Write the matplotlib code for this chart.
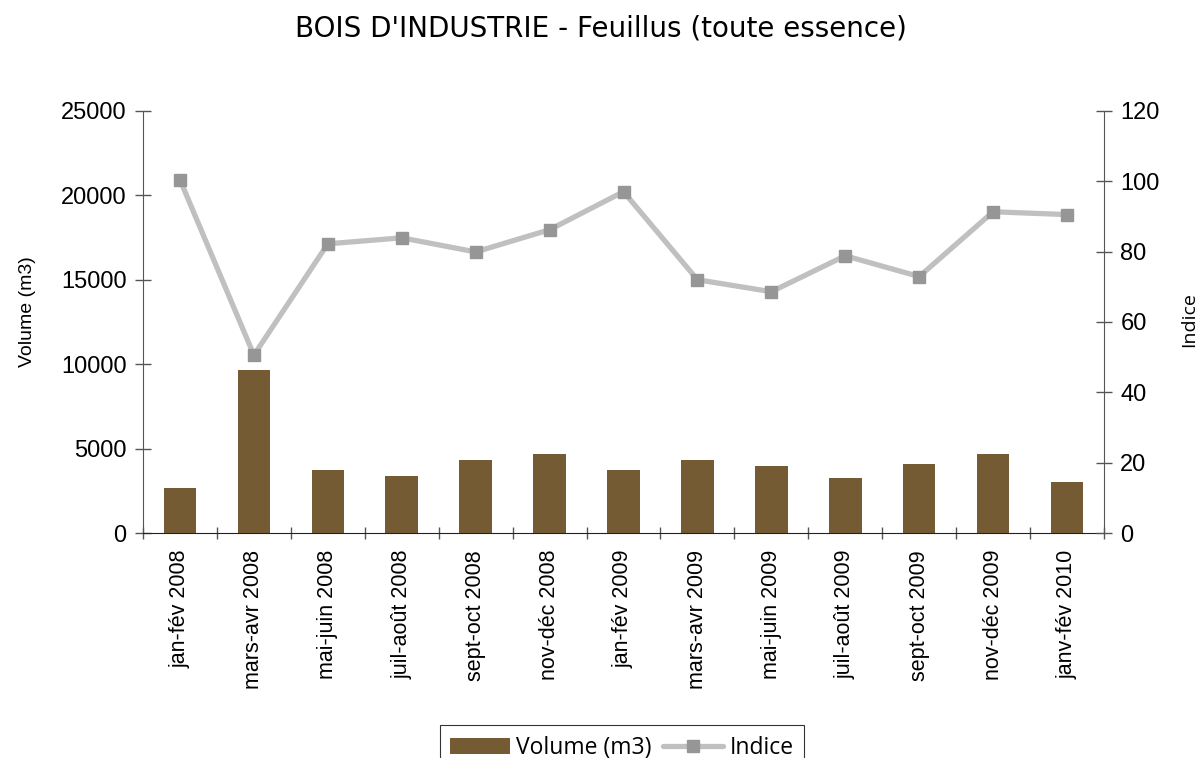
import matplotlib
matplotlib.use("Agg")
import matplotlib.pyplot as plt
import numpy as np

categories = ["jan-fév 2008", "mars-avr 2008", "mai-juin 2008", "juil-août 2008",
              "sept-oct 2008", "nov-déc 2008", "jan-fév 2009", "mars-avr 2009",
              "mai-juin 2009", "juil-août 2009", "sept-oct 2009", "nov-déc 2009",
              "janv-fév 2010"]
volume = [2680, 9640, 3730, 3370, 4320, 4680, 3730, 4320, 3960, 3270, 4080, 4680, 3040]
indice = [100.4, 50.6, 82.2, 83.9, 79.9, 86.2, 97.0, 72.0, 68.6, 78.8, 72.9, 91.3, 90.5]
left_ticks = [0, 5000, 10000, 15000, 20000, 25000]
right_ticks = [0, 20, 40, 60, 80, 100, 120]

title = "BOIS D'INDUSTRIE - Feuillus (toute essence)"

fig = plt.figure(figsize=(12.01, 7.58), dpi=100)
ax = fig.add_axes([143/1201, 1-533.3/758, (1104-143)/1201, (533.3-110.7)/758])
ax2 = ax.twinx()
ax.set_zorder(1)
ax2.set_zorder(2)
ax.patch.set_visible(False)
ax2.patch.set_visible(False)

x = np.arange(len(categories))
bars = ax.bar(x, volume, width=0.44, color="#745B33", label="Volume (m3)", zorder=2)
line, = ax2.plot(x, indice, color="#C0C0C0", lw=3.8, marker="s", markersize=8.5,
                 markerfacecolor="#969696", markeredgecolor="#969696", label="Indice",
                 solid_capstyle="round", zorder=3)

ax.set_xlim(-0.5, len(categories) - 0.5)
ax.set_ylim(0, 25000)
ax2.set_ylim(0, 120)
ax.set_yticks(left_ticks)
ax2.set_yticks(right_ticks)

tick_font = dict(family="Liberation Sans")
ax.set_yticklabels([str(v) for v in left_ticks], fontsize=17, **tick_font)
ax2.set_yticklabels([str(v) for v in right_ticks], fontsize=17, **tick_font)

# category boundaries as major ticks, labels as minor ticks
ax.set_xticks(np.arange(-0.5, len(categories), 1.0))
ax.set_xticklabels([])
ax.set_xticks(x, minor=True)
ax.set_xticklabels(categories, minor=True, rotation=90, fontsize=15.5, **tick_font)
ax.tick_params(axis="x", which="major", direction="inout", length=9, width=1, color="#555555")
ax.tick_params(axis="x", which="minor", length=0, pad=12)
ax.tick_params(axis="y", direction="inout", length=11.5, width=1, color="#555555", pad=6)
ax2.tick_params(axis="y", direction="inout", length=11.5, width=1, color="#555555", pad=6)

for a in (ax, ax2):
    a.spines["top"].set_visible(False)
    a.spines["left"].set_color("#555555")
    a.spines["right"].set_color("#555555")
    a.spines["bottom"].set_color("#222222")
ax2.spines["bottom"].set_visible(False)
ax2.spines["left"].set_visible(False)
ax.spines["right"].set_visible(False)

fig.text(28/1201, 1-312/758, "Volume (m3)", rotation=90, ha="center", va="center",
         fontsize=14, family="Liberation Sans")
fig.text(1189/1201, 1-320/758, "Indice", rotation=90, ha="center", va="center",
         fontsize=14, family="Open Sans")

fig.text(0.5, 1-28/758, title, ha="center", va="center", fontsize=20, family="DejaVu Sans")

leg = fig.legend([bars, line], ["Volume (m3)", "Indice"], ncol=2, loc="upper center",
                 bbox_to_anchor=(622/1201, 1-714/758), frameon=True, fancybox=False,
                 edgecolor="#000000", prop=dict(family="Open Sans", size=16.5),
                 handlelength=2.6, handletextpad=0.3, columnspacing=0.5,
                 borderpad=0.45)
leg.get_frame().set_linewidth(0.8)

fig.savefig("out.png", dpi=100)
